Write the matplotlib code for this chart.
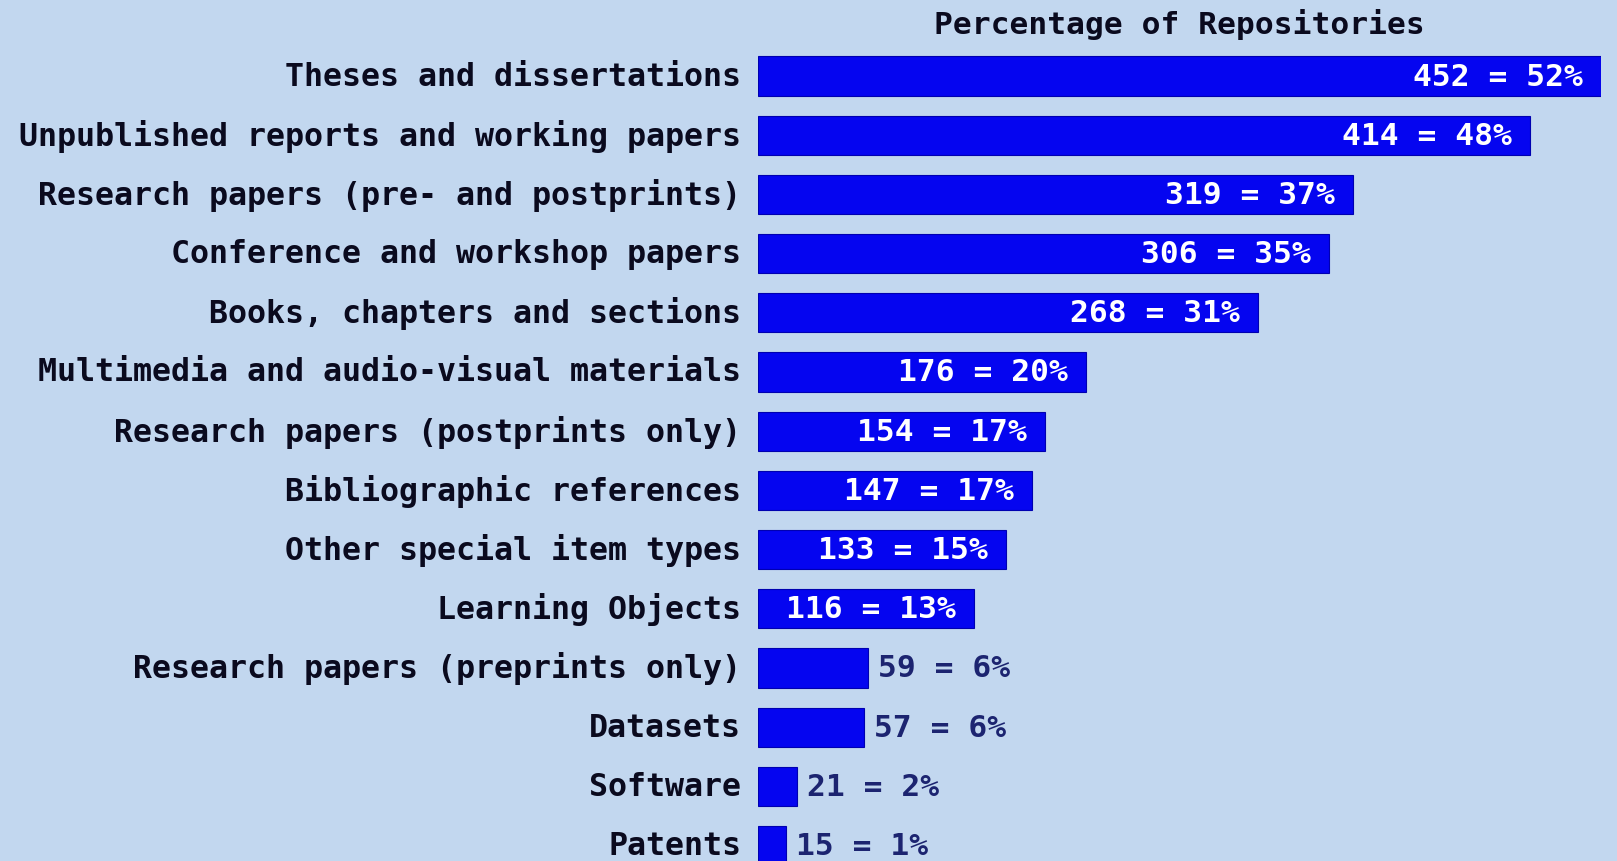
import matplotlib
matplotlib.use("Agg")
import matplotlib.pyplot as plt

# Data
categories = [
    "Theses and dissertations",
    "Unpublished reports and working papers",
    "Research papers (pre- and postprints)",
    "Conference and workshop papers",
    "Books, chapters and sections",
    "Multimedia and audio-visual materials",
    "Research papers (postprints only)",
    "Bibliographic references",
    "Other special item types",
    "Learning Objects",
    "Research papers (preprints only)",
    "Datasets",
    "Software",
    "Patents",
]
counts = [452, 414, 319, 306, 268, 176, 154, 147, 133, 116, 59, 57, 21, 15]
percents = [52, 48, 37, 35, 31, 20, 17, 17, 15, 13, 6, 6, 2, 1]

BG = "#c2d7ef"
BAR = "#0505f0"
TXT = "#0a0a1e"
OUT_TXT = "#1c2470"
W, H = 1617, 862

plt.rcParams["font.family"] = ["DejaVu Sans Mono"]
plt.rcParams["font.weight"] = "bold"

fig = plt.figure(figsize=(W / 100, H / 100), dpi=100, facecolor=BG)

# bars occupy pixels 758..1601 horizontally; rows every 59.2 px, first centred at y=77
x0, x1 = 758, 1601
row0, step = 77, 59.2
ax = fig.add_axes([x0 / W, 0, (x1 - x0) / W, 1])
ax.set_facecolor(BG)
ax.set_xlim(0, max(counts))
ax.set_ylim((H - row0) / step, -row0 / step)

ypos = list(range(len(categories)))
ax.barh(ypos, counts, height=0.66, color=BAR, edgecolor="#0000b0", linewidth=0.8)

ax.set_yticks(ypos)
ax.set_yticklabels(categories, fontsize=22.8, color=TXT, fontweight="bold",
                   va="center")
ax.tick_params(axis="y", length=0, pad=12)
ax.set_xticks([])
for s in ax.spines.values():
    s.set_visible(False)

for y, c, p in zip(ypos, counts, percents):
    label = f"{c} = {p}%"
    if c > 100:
        ax.annotate(label, (c, y), xytext=(-13, 0), textcoords="offset points",
                    ha="right", va="center", color="white", fontsize=22.5,
                    fontweight="bold")
    else:
        ax.annotate(label, (c, y), xytext=(7, 0), textcoords="offset points",
                    ha="left", va="center", color=OUT_TXT, fontsize=22.5,
                    fontweight="bold")

fig.text(1179 / W, 1 - 24 / H, "Percentage of Repositories", ha="center",
         va="center", fontsize=22.5, color=TXT, fontweight="bold")

fig.savefig("out.png", dpi=100, facecolor=BG)
